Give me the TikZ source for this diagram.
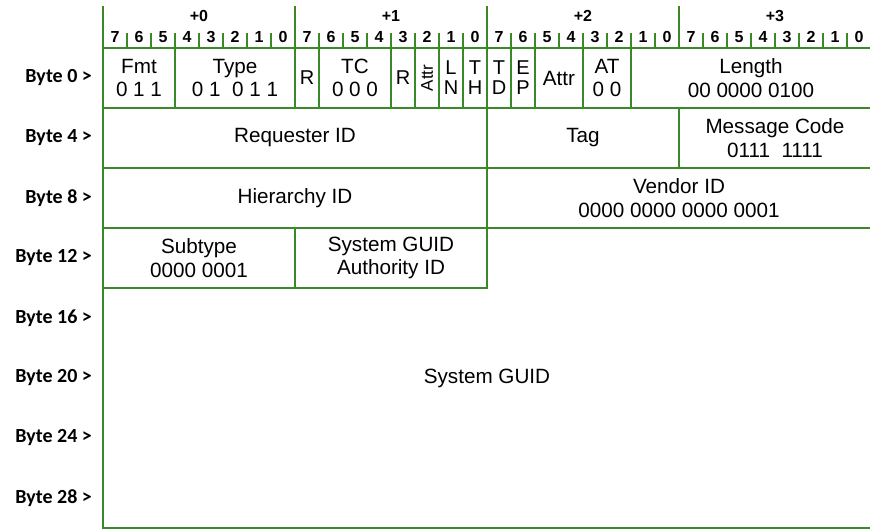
\documentclass[tikz,border=0pt]{standalone}
\usepackage{fontspec}
\setmainfont{Liberation Sans}
\newfontfamily\bytefont{Carlito}
\usetikzlibrary{positioning}
\definecolor{fieldgreen}{RGB}{58,136,40}
\tikzset{
  field/.style={rectangle, draw=fieldgreen, line width=1.4pt,
    minimum width=#1*18pt, minimum height=45pt, inner sep=0pt, outer sep=0pt,
    anchor=north west, align=center, font=\fontsize{15.5}{17.5}\selectfont},
  bitfield/.style={field=1, font=\fontsize{15}{15}\selectfont},
  fieldline/.style={draw=fieldgreen, line width=1.4pt},
  hdrline/.style={draw=fieldgreen, line width=1.5pt},
  hdr/.style={font=\bfseries\fontsize{12}{13}\selectfont, inner sep=0pt}
}

\begin{document}
\begin{tikzpicture}[x=18pt, y=-45pt,
  rowlbl/.style={font=\bytefont\bfseries\fontsize{15}{18}\selectfont, anchor=east, inner sep=0pt}
]
\useasboundingbox (-4.2917,-0.8) rectangle (31.9583,8.0167);

% Header: byte offsets and bit numbers
\foreach \b in {0,...,3} {
  \draw[hdrline] (8*\b,-0.7) -- (8*\b,0);
  \node[hdr] (off\b) at (8*\b+4,-0.53) {+\b};
}
\foreach \i in {0,...,31} {
  \pgfmathtruncatemacro{\bitno}{7-mod(\i,8)}
  \node[hdr] (bit\i) at (\i+0.5,-0.18) {\bitno};
  \ifnum\bitno<7 \draw[hdrline] (\i,-0.25) -- (\i,0); \fi
}

% Row labels
\foreach \r in {0,...,7} {
  \pgfmathtruncatemacro{\byteno}{4*\r}
  \node[rowlbl] (byte\r) at (-0.45,\r+0.5) {Byte \byteno{} >};
}

% Byte 0
\node[field=3] (fmt) at (0,0) {Fmt\\0 1 1};
\node[field=5] (type) at (3,0) {Type\\0 1~ 0 1 1};
\node[bitfield] (resA) at (8,0) {R};
\node[field=3] (tc) at (9,0) {TC\\0 0 0};
\node[bitfield] (resB) at (12,0) {R};
\node[bitfield] (attrA) at (13,0) {\rotatebox{90}{\fontsize{12.75}{15}\selectfont Attr}};
\node[bitfield] (ln) at (14,0) {L\\N};
\node[bitfield] (th) at (15,0) {T\\H};
\node[bitfield] (td) at (16,0) {T\\D};
\node[bitfield] (ep) at (17,0) {E\\P};
\node[field=2] (attrB) at (18,0) {Attr};
\node[field=2] (addrtype) at (20,0) {AT\\0 0};
\node[field=10] (length) at (22,0) {Length\\00 0000 0100};

% Byte 4
\node[field=16] (reqid) at (0,1) {Requester ID};
\node[field=8] (tag) at (16,1) {Tag};
\node[field=8] (msgcode) at (24,1) {Message Code\\0111~ 1111};

% Byte 8
\node[field=16] (hierid) at (0,2) {Hierarchy ID};
\node[field=16] (vendorid) at (16,2) {Vendor ID\\0000 0000 0000 0001};

% Byte 12
\node[field=8] (subtype) at (0,3) {Subtype\\0000 0001};
\node[field=8] (authid) at (8,3) {System GUID\\Authority ID};

% Bytes 16-31: open block, left and bottom edges only
\coordinate (guidbl) at (0,8);
\coordinate (guidbr) at (32,8);
\draw[fieldline] (subtype.south west) -- (guidbl) -- (guidbr);
\node[font=\fontsize{15.5}{17.5}\selectfont] (guid) at (16,5.5) {System GUID};
\end{tikzpicture}
\end{document}
